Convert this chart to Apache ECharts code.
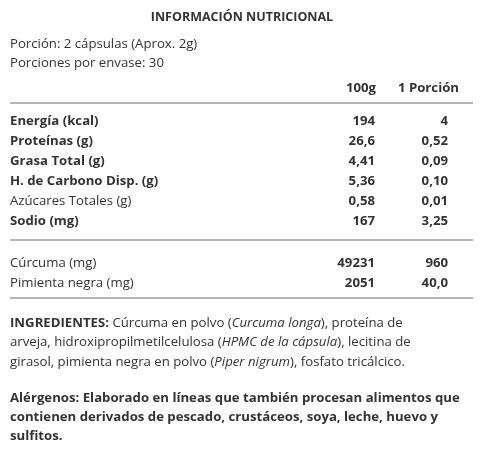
<!DOCTYPE html>
<html><head><meta charset="utf-8">
<script src="https://cdn.jsdelivr.net/npm/echarts@6/dist/echarts.min.js"></script>
<style>html,body{margin:0;padding:0;background:#fff}#c{width:480px;height:450px}</style>
</head><body><div id="c"></div>
<script>
const title = 'INFORMACIÓN NUTRICIONAL';
const servingLines = ['Porción: 2 cápsulas (Aprox. 2g)', 'Porciones por envase: 30'];
const headers = ['100g', '1 Porción'];
const nutrients = ['Energía (kcal)', 'Proteínas (g)', 'Grasa Total (g)', 'H. de Carbono Disp. (g)', 'Azúcares Totales (g)', 'Sodio (mg)'];
const nutrientBold = [true, true, true, true, false, true];
const per100 = ['194', '26,6', '4,41', '5,36', '0,58', '167'];
const perPortion = ['4', '0,52', '0,09', '0,10', '0,01', '3,25'];
const extras = ['Cúrcuma (mg)', 'Pimienta negra (mg)'];
const extras100 = ['49231', '2051'];
const extrasPortion = ['960', '40,0'];
const ingredientLines = [
  '{b|INGREDIENTES:} Cúrcuma en polvo ({i|Curcuma longa}), proteína de',
  'arveja, hidroxipropilmetilcelulosa ({i|HPMC de la cápsula}), lecitina de',
  'girasol, pimienta negra en polvo ({i|Piper nigrum}), fosfato tricálcico.'
];
const allergenLines = [
  '{b|Alérgenos: Elaborado en líneas que también procesan alimentos que}',
  '{b|contienen derivados de pescado, crustáceos, soya, leche, huevo y}',
  '{b|sulfitos.}'
];
const F = '"Open Sans", sans-serif';
const C = '#333';
const FS = 13.2;
const g = [];
function t(x, y, text, o) {
  g.push({type:'text', x, y, style:Object.assign({text, fill:C, font:FS+'px '+F, textVerticalAlign:'middle'}, o||{})});
}
const B = 'bold '+FS+'px '+F;
function line(y){ g.push({type:'line', shape:{x1:10,y1:y,x2:473,y2:y}, style:{stroke:'#b5b5b5', lineWidth:2}}); }
t(242, 17, title, {textAlign:'center', font:'bold 12.5px '+F});
servingLines.forEach((s,i)=>t(10, 44+i*19, s));
t(376, 88, headers[0], {textAlign:'right', font:B});
t(459, 88, headers[1], {textAlign:'right', font:B});
line(103);
nutrients.forEach((n,i)=>{
  const y = 121 + i*20;
  t(10, y, n, {font: nutrientBold[i] ? B : FS+'px '+F});
  t(375, y, per100[i], {textAlign:'right', font:B});
  t(448, y, perPortion[i], {textAlign:'right', font:B});
});
line(240);
extras.forEach((n,i)=>{
  const y = 263 + i*20;
  t(10, y, n);
  t(375, y, extras100[i], {textAlign:'right', font:B});
  t(448, y, extrasPortion[i], {textAlign:'right', font:B});
});
line(298);
const rich = {b:{fontWeight:'bold', fontSize:FS, fontFamily:F, fill:C}, i:{fontStyle:'italic', fontSize:FS, fontFamily:F, fill:C}};
ingredientLines.forEach((s,i)=>t(10, 323+i*19.5, s, {rich}));
allergenLines.forEach((s,i)=>t(10, 398+i*19, s, {rich}));
const chart = echarts.init(document.getElementById('c'));
chart.setOption({animation:false, backgroundColor:'#fff', graphic:g});
</script></body></html>
